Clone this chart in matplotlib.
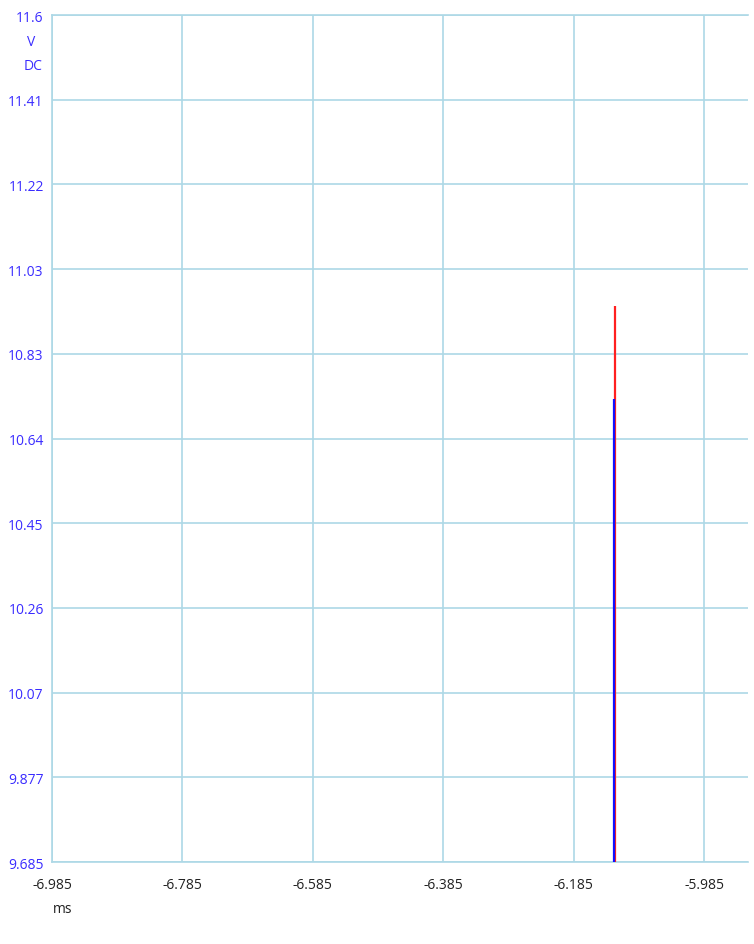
import numpy as np
import matplotlib.pyplot as plt

plt.rcParams['font.family'] = ['Open Sans', 'DejaVu Sans']

# time axis (ms) and tick labels
x_ticks = [-6.985, -6.785, -6.585, -6.385, -6.185, -5.985]
x_labels = ['-6.985', '-6.785', '-6.585', '-6.385', '-6.185', '-5.985']
y_labels = ['9.685', '9.877', '10.07', '10.26', '10.45', '10.64',
            '10.83', '11.03', '11.22', '11.41', '11.6']

# two traces, each a single jump from off-scale up to its value
red_t = [-6.1216, -6.1216]
red_v = [9.5, 10.942]
blue_t = [-6.1228, -6.1228]
blue_v = [9.5, 10.732]

y_min, y_max = 9.685, 11.6
x_min, x_max = -6.985, -5.918

fig = plt.figure(figsize=(7.54, 9.45), dpi=100)
ax = fig.add_axes([52 / 754, 82 / 945, 696 / 754, 847 / 945])

grid_c = '#add8e6'
ax.set_xlim(x_min, x_max)
ax.set_ylim(y_min, y_max)
ax.set_xticks(x_ticks)
ax.set_xticklabels(x_labels)
ax.set_yticks(np.linspace(y_min, y_max, len(y_labels)))
ax.set_yticklabels(y_labels)
ax.grid(True, color=grid_c, linewidth=1.2)
ax.set_axisbelow(True)

ax.plot(red_t, red_v, color='#ff2020', linewidth=1.6, solid_capstyle='butt', zorder=3)
ax.plot(blue_t, blue_v, color='#1010ff', linewidth=1.6, solid_capstyle='butt', zorder=4)

ax.spines['right'].set_visible(False)
for s in ['left', 'bottom', 'top']:
    ax.spines[s].set_color(grid_c)
    ax.spines[s].set_linewidth(1.2)

ax.tick_params(axis='both', length=0)
ax.tick_params(axis='y', colors='#3a2cff', labelsize=10, pad=6)
ax.tick_params(axis='x', colors='#222222', labelsize=10, pad=11)

fig.text(27 / 754, 1 - 42 / 945, 'V', color='#3a2cff', fontsize=10, ha='left', va='center')
fig.text(24 / 754, 1 - 66 / 945, 'DC', color='#3a2cff', fontsize=10, ha='left', va='center')
fig.text(53 / 754, 1 - 910 / 945, 'ms', color='#222222', fontsize=10, ha='left', va='center')

fig.savefig('out.png', dpi=100)
